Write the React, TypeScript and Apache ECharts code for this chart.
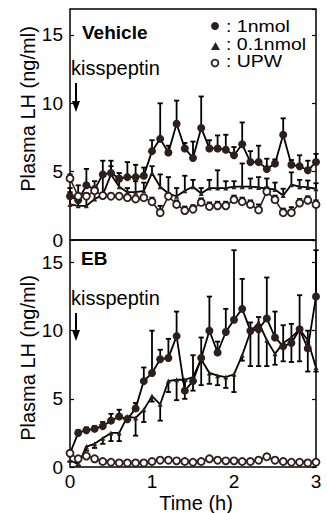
import React, { useEffect, useRef } from "react";
import * as echarts from "echarts";

// Time points (h), sampled every 6 min
const times = [0, 0.1, 0.2, 0.3, 0.4, 0.5, 0.6, 0.7, 0.8, 0.9, 1, 1.1, 1.2, 1.3, 1.4, 1.5, 1.6, 1.7, 1.8, 1.9, 2, 2.1, 2.2, 2.3, 2.4, 2.5, 2.6, 2.7, 2.8, 2.9, 3];
const xTicks = [0, 1, 2, 3];
const yTicks = [0, 5, 10, 15];

// Vehicle panel
const veh1nmol = [3.2, 2.9, 4.0, 3.7, 4.8, 4.9, 4.5, 4.6, 4.6, 4.7, 6.5, 7.4, 6.4, 8.5, 6.7, 6.0, 8.2, 6.7, 6.7, 6.6, 6.2, 7.0, 5.7, 5.7, 5.2, 5.6, 7.7, 5.5, 5.4, 5.1, 5.7];
const veh1nmolErr = [0.3, 0.4, 1.2, 0.6, 1.0, 0.9, 0.4, 1.1, 0.9, 0.6, 0.8, 2.6, 0.5, 1.7, 0.4, 1.2, 2.3, 0.6, 0.95, 1.1, 0.6, 1.6, 0.8, 1.2, 0.75, 0.3, 1.2, 0.35, 0.8, 0.7, 0.6];
const veh01nmol = [2.6, 2.5, 2.5, 3.0, 3.3, 4.8, 3.9, 3.5, 3.5, 3.6, 4.9, 3.9, 3.4, 3.2, 3.6, 3.9, 3.4, 3.8, 3.8, 3.8, 3.9, 3.9, 3.9, 3.85, 3.75, 3.7, 3.25, 4.05, 3.9, 3.85, 3.75];
const veh01nmolErr = [1.2, 1.5, 0.9, 0.9, 1.5, 0.6, 0.4, 0.3, 0.8, 0.6, 0.5, 0.9, 1.2, 0.6, 1.1, 0.5, 0.4, 0.6, 1.3, 0.5, 0.4, 1.7, 0.6, 0.75, 0.75, 0.5, 0.5, 0.9, 0.5, 0.5, 0.4];
const vehUPW = [4.5, 3.2, 3.2, 3.6, 3.25, 3.2, 3.2, 3.1, 3.0, 3.1, 2.8, 2.0, 3.2, 2.6, 2.15, 2.25, 2.75, 2.45, 2.5, 2.5, 2.95, 2.8, 2.6, 2.2, 3.55, 2.95, 2.0, 2.0, 2.7, 2.9, 2.6];
const vehUPWErr = [0.3, 0.2, 0.2, 0.3, 0.2, 0.2, 0.2, 0.2, 0.2, 0.2, 0.3, 0.5, 0.2, 0.3, 0.3, 0.3, 0.3, 0.3, 0.3, 0.3, 0.3, 0.3, 0.3, 0.4, 0.3, 0.3, 0.3, 0.4, 0.3, 0.3, 0.3];

// EB panel
const eb1nmol = [1.0, 2.5, 2.7, 2.8, 3.0, 3.4, 3.7, 3.5, 4.3, 6.3, 6.9, 7.9, 8.0, 9.6, 5.6, 6.3, 8.0, 10.0, 8.4, 9.9, 10.8, 11.6, 10.0, 10.1, 10.9, 9.5, 8.85, 9.1, 10.1, 8.7, 12.5];
const eb1nmolErr = [0.1, 0.2, 0.2, 0.2, 0.3, 0.5, 0.5, 0.2, 0.4, 1.0, 3.1, 0.7, 1.4, 1.8, 0.7, 1.9, 1.5, 2.5, 0.8, 1.7, 5.1, 2.2, 0.6, 0.9, 3.0, 1.9, 1.55, 1.4, 2.5, 1.3, 3.4];
const eb01nmol = [0.5, 0.2, 1.5, 1.7, 2.1, 2.5, 2.5, 3.7, 3.6, 4.2, 5.2, 4.6, 6.3, 6.4, 6.4, 6.6, 7.9, 6.9, 6.7, 6.6, 6.8, 8.2, 9.9, 10.6, 9.3, 8.3, 9.1, 9.5, 10.1, 9.3, 7.3];
const eb01nmolErr = [0.1, 0.1, 0.3, 0.3, 0.4, 0.6, 0.6, 0.2, 1.3, 0.9, 0.4, 1.2, 0.8, 1.5, 1.4, 1.0, 1.9, 0.8, 0.7, 0.8, 1.3, 0.4, 2.5, 3.2, 1.9, 0.8, 1.35, 1.8, 2.35, 2.3, 0.3];
const ebUPW = [1.0, 0.6, 0.8, 0.6, 0.4, 0.35, 0.3, 0.3, 0.3, 0.3, 0.4, 0.5, 0.5, 0.45, 0.4, 0.35, 0.4, 0.6, 0.5, 0.45, 0.45, 0.4, 0.4, 0.5, 0.75, 0.5, 0.4, 0.35, 0.35, 0.3, 0.35];
const ebUPWErr = [0.2, 0.1, 0.1, 0.1, 0.1, 0.1, 0.1, 0.1, 0.1, 0.1, 0.1, 0.1, 0.1, 0.1, 0.1, 0.1, 0.1, 0.1, 0.1, 0.1, 0.1, 0.1, 0.1, 0.1, 0.2, 0.1, 0.1, 0.1, 0.1, 0.1, 0.1];

const FONT = "Liberation Sans, Arial, Helvetica, sans-serif";
const MARK = "#2e1f1c";

function errSeries(vals: number[], errs: number[], sign: number, xi: number, yi: number) {
  return {
    type: "custom",
    xAxisIndex: xi,
    yAxisIndex: yi,
    z: 2,
    silent: true,
    encode: { x: 0, y: 1 },
    data: times.map((t, i) => [t, vals[i], sign * errs[i]]),
    renderItem: (params: any, api: any) => {
      const x = api.value(0);
      const y = api.value(1);
      const e = api.value(2);
      const p0 = api.coord([x, y]);
      const p1 = api.coord([x, y + e]);
      const st = { stroke: "#000", lineWidth: 1.8 };
      return {
        type: "group",
        children: [
          { type: "line", shape: { x1: p0[0], y1: p0[1], x2: p1[0], y2: p1[1] }, style: st },
          { type: "line", shape: { x1: p1[0] - 2.6, y1: p1[1], x2: p1[0] + 2.6, y2: p1[1] }, style: st },
        ],
      };
    },
  };
}

function lineSeries(vals: number[], xi: number, yi: number, kind: string, z: number) {
  const base: any = {
    type: "line",
    xAxisIndex: xi,
    yAxisIndex: yi,
    z,
    silent: true,
    data: times.map((t, i) => [t, vals[i]]),
    lineStyle: { color: "#000", width: 1.8 },
  };
  if (kind === "filled") {
    base.symbol = "circle";
    base.symbolSize = 8;
    base.itemStyle = { color: MARK, borderWidth: 0 };
  } else if (kind === "tri") {
    base.symbol = "triangle";
    base.symbolSize = 5;
    base.itemStyle = { color: MARK, borderWidth: 0 };
  } else {
    base.symbol = "circle";
    base.symbolSize = 7;
    base.itemStyle = { color: "#fff", borderColor: MARK, borderWidth: 1.8 };
    base.lineStyle = { color: MARK, width: 1.6 };
  }
  return base;
}

function yAx(gi: number, pos: string, max: number, labels: boolean) {
  return {
    type: "value",
    gridIndex: gi,
    position: pos,
    min: 0,
    max,
    interval: 5,
    splitLine: { show: false },
    axisLine: { show: false },
    axisTick: { show: true, inside: true, length: 4, lineStyle: { color: "#000", width: 1.2 } },
    axisLabel: {
      show: labels,
      showMaxLabel: false,
      color: "#000",
      fontSize: 19,
      fontFamily: FONT,
      margin: 7,
      formatter: (v: number) => (yTicks.indexOf(v) >= 0 ? String(v) : ""),
    },
  };
}

function xAx(gi: number, labels: boolean) {
  return {
    type: "value",
    gridIndex: gi,
    min: 0,
    max: 3,
    interval: 1,
    splitLine: { show: false },
    axisLine: { show: false },
    axisTick: { show: false },
    axisLabel: {
      show: labels,
      color: "#000",
      fontSize: 19,
      fontFamily: FONT,
      margin: 5,
      formatter: (v: number) => (xTicks.indexOf(v) >= 0 ? String(v) : ""),
    },
  };
}

function arrow(x: number, y0: number, y1: number) {
  return [
    { type: "line", shape: { x1: x, y1: y0, x2: x, y2: y1 - 6 }, style: { stroke: "#000", lineWidth: 2 } },
    { type: "polygon", shape: { points: [[x - 4, y1 - 11], [x + 4, y1 - 11], [x, y1]] }, style: { fill: "#000" } },
  ];
}

function txt(text: string, x: number, y: number, size: number, bold = false, extra: any = {}) {
  const { align, ...rest } = extra;
  return {
    type: "text",
    x,
    y,
    ...rest,
    style: {
      text,
      fontSize: size,
      fontFamily: FONT,
      fontWeight: bold ? "bold" : "normal",
      fill: "#000",
      align: align || "left",
      verticalAlign: "middle",
    },
  };
}

export default function App() {
  const ref = useRef<HTMLDivElement>(null);
  useEffect(() => {
    if (!ref.current) return;
    const chart = echarts.init(ref.current, undefined, { renderer: "svg" });
    const option: any = {
      animation: false,
      backgroundColor: "#fff",
      grid: [
        { left: 70, top: 9, width: 246, height: 231, show: true, borderColor: "#000", borderWidth: 1.5, backgroundColor: "transparent" },
        { left: 70, top: 240, width: 246, height: 227, show: true, borderColor: "#000", borderWidth: 1.5, backgroundColor: "transparent" },
      ],
      xAxis: [xAx(0, false), xAx(1, true)],
      yAxis: [yAx(0, "left", 16.9, true), yAx(0, "right", 16.9, false), yAx(1, "left", 16.65, true), yAx(1, "right", 16.65, false)],
      series: [
        errSeries(veh01nmol, veh01nmolErr, 1, 0, 0),
        errSeries(veh1nmol, veh1nmolErr, 1, 0, 0),
        errSeries(vehUPW, vehUPWErr, 1, 0, 0),
        lineSeries(veh01nmol, 0, 0, "tri", 3),
        lineSeries(veh1nmol, 0, 0, "filled", 4),
        lineSeries(vehUPW, 0, 0, "open", 5),
        errSeries(eb01nmol, eb01nmolErr, -1, 1, 2),
        errSeries(eb1nmol, eb1nmolErr, 1, 1, 2),
        errSeries(ebUPW, ebUPWErr, 1, 1, 2),
        lineSeries(eb01nmol, 1, 2, "tri", 3),
        lineSeries(eb1nmol, 1, 2, "filled", 4),
        lineSeries(ebUPW, 1, 2, "open", 5),
      ],
      graphic: [
        txt("Vehicle", 82, 32, 19, true),
        txt("EB", 81, 258, 19, true),
        txt("kisspeptin", 71, 68, 20),
        txt("kisspeptin", 71, 298, 20),
        ...arrow(76, 83, 112),
        ...arrow(76, 313, 341),
        { type: "circle", shape: { cx: 215, cy: 26, r: 4 }, style: { fill: MARK } },
        { type: "polygon", shape: { points: [[211, 50], [220, 50], [215.5, 42]] }, style: { fill: MARK } },
        { type: "circle", shape: { cx: 215, cy: 63, r: 3.4 }, style: { fill: "#fff", stroke: MARK, lineWidth: 1.8 } },
        txt(": 1nmol", 226, 27, 16.5, false, { scaleX: 1.18 }),
        txt(": 0.1nmol", 226, 44.5, 16.5, false, { scaleX: 1.18 }),
        txt(": UPW", 226, 62, 16.5, false, { scaleX: 1.18 }),
        txt("Plasma LH (ng/ml)", 28, 109, 20, false, { rotation: Math.PI / 2, align: "center" }),
        txt("Plasma LH (ng/ml)", 28, 358, 20, false, { rotation: Math.PI / 2, align: "center" }),
        txt("Time (h)", 196, 503, 20, false, { align: "center" }),
      ],
    };
    chart.setOption(option);
    return () => chart.dispose();
  }, []);
  return <div ref={ref} style={{ position: "absolute", left: 0, top: 0, width: 327, height: 513 }} />;
}
